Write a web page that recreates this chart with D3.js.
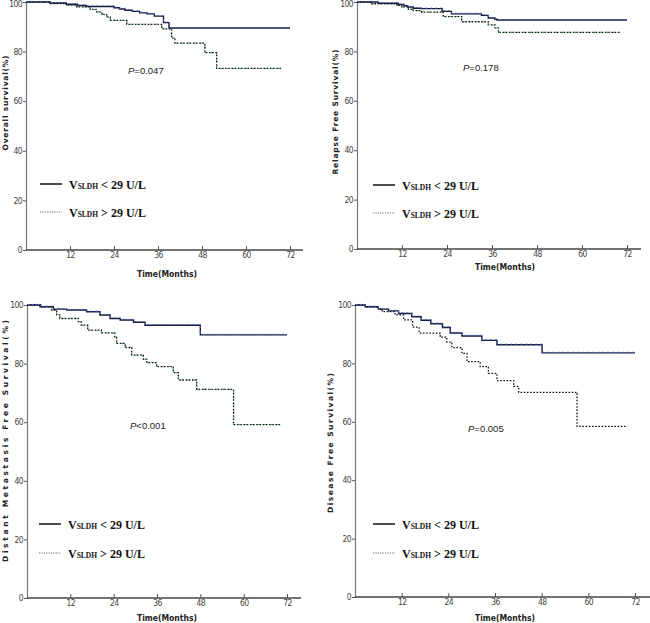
<!DOCTYPE html>
<html>
<head>
<meta charset="utf-8">
<script src="https://cdn.jsdelivr.net/npm/d3@7"></script>
<style>
  html, body { margin: 0; padding: 0; background: #fff; }
  svg { display: block; }
  .tick text { font-family: "Liberation Sans Narrow", "DejaVu Sans Condensed", "Liberation Sans", sans-serif; }
</style>
</head>
<body>
<svg id="chart" width="650" height="623"></svg>
<script>
// ---------------- DATA ----------------
const xTicks = [12, 24, 36, 48, 60, 72];
const yTicks = [0, 20, 40, 60, 80, 100];
const groupLabels = ["< 29 U/L", "> 29 U/L"];
const yTitles = ["Overall survival(%)", "Relapse Free Survival(%)", "Distant Metastasis Free Survival(%)", "Disease Free Survival(%)"];
const pValues = ["=0.047", "=0.178", "<0.001", "=0.005"];

// [month, survival %] step points, low VSLDH group (solid)
const osLow = [[0,100],[6.5,99.6],[11,99.1],[14,98.6],[16.5,98.2],[24,97.7],[25.5,97.2],[27,96.7],[29,96.2],[31,95.6],[33,95.2],[35,94.3],[37.5,91.7],[39,89.5],[72,89.5]];
const osHigh = [[0,100],[6.5,99.4],[11,98.8],[13.8,98],[17.5,97],[19.1,96],[20.7,95],[22,94],[23,92.6],[27.5,91],[37,89.2],[39.7,85.4],[40.6,83.4],[48.8,79.6],[52,73.2],[70,73.2]];

const rfsLow = [[0,100],[5.6,99.5],[11,99],[12.5,98.5],[13.5,98],[15,97.5],[17,97.3],[22.7,96.2],[25.2,95.2],[33.2,94.6],[35,93.5],[36.8,93],[37.3,92.7],[72,92.7]];
const rfsHigh = [[0,100],[3.9,99.3],[10.6,98.6],[11.9,98],[13.7,97],[15,96.5],[17.2,95.9],[23,94.1],[27.9,92],[35,90.7],[36.8,89.5],[37.7,87.7],[70.2,87.7]];

const dmfsLow = [[0,100],[3.6,99.4],[7.3,98.6],[11,98.3],[16.5,97.7],[20.2,96.6],[23,95.4],[25.8,94.9],[29.5,94.1],[32.7,93.1],[48,89.8],[72,89.8]];
const dmfsHigh = [[0,100],[4,99.4],[6.8,98.3],[8.2,96.6],[9.1,95.4],[14.2,94.3],[15,93.1],[16.8,91.4],[20.6,90.5],[24.3,89.1],[24.8,86.9],[27.2,85.5],[29,82.9],[32.2,81.5],[33.2,80.3],[35.9,79],[40.5,76.9],[41.9,74.4],[47,71.2],[57.2,59.2],[70.1,59.2]];

const dfsLow = [[0,100],[2.6,99.4],[6,98.6],[8.6,98],[11.2,97.1],[14.6,96],[17,94.8],[19.5,93.6],[22.5,92.3],[24.5,90.4],[27.5,89.4],[32.6,87.9],[36.5,86.4],[48.1,83.6],[72,83.6]];
const dfsHigh = [[0,100],[2.6,99.4],[6,98.6],[7,97.7],[10.3,96.6],[12.5,94.9],[14.8,92.4],[16.5,90.4],[21.9,89],[23.6,87.3],[24.9,85.4],[27.5,83.4],[28.8,80.6],[32.2,78.9],[34.3,76.6],[36.5,74.1],[40.8,72.1],[42.1,70.1],[57.1,58.4],[70,58.4]];

// ---------------- LAYOUT ----------------
const panels = [
  { low: osLow, high: osHigh, x0: 26, x72: 290, xEnd: 303, yTop: 2, yBot: 250,
    yTitleX: 8, yTitleY: 103, yTitleLen: 95, xTitleX: 167, xTitleY: 277,
    pX: 128, pY: 74, legX: 40, legY1: 184, legY2: 212, green: true },
  { low: rfsLow, high: rfsHigh, x0: 357, x72: 627, xEnd: 641, yTop: 2, yBot: 249,
    yTitleX: 338, yTitleY: 112, yTitleLen: 125, xTitleX: 505, xTitleY: 270,
    pX: 463, pY: 71, legX: 373, legY1: 185, legY2: 213, green: true },
  { low: dmfsLow, high: dmfsHigh, x0: 27, x72: 287, xEnd: 301, yTop: 305, yBot: 598,
    yTitleX: 8, yTitleY: 441, yTitleLen: 242, xTitleX: 167, xTitleY: 621,
    pX: 130, pY: 429, legX: 39, legY1: 524, legY2: 553, green: true },
  { low: dfsLow, high: dfsHigh, x0: 355, x72: 635, xEnd: 650, yTop: 305, yBot: 597,
    yTitleX: 333, yTitleY: 443, yTitleLen: 140, xTitleX: 505, xTitleY: 621,
    pX: 468, pY: 432, legX: 373, legY1: 524, legY2: 553, green: false }
];

const svg = d3.select("#chart");

panels.forEach((p, i) => {
  const g = svg.append("g");
  const x = d3.scaleLinear().domain([0, 72]).range([p.x0, p.x72]);
  const y = d3.scaleLinear().domain([0, 100]).range([p.yBot, p.yTop]);

  // y axis
  const yAxis = g.append("g").attr("transform", `translate(${p.x0},0)`)
    .call(d3.axisLeft(y).tickValues(yTicks).tickSize(3).tickPadding(1).tickFormat(d3.format("d")));
  yAxis.select(".domain").attr("stroke", "#777").attr("stroke-width", 1.2);
  yAxis.selectAll(".tick line").attr("stroke", "#555");
  yAxis.selectAll(".tick text").attr("font-size", 8.5).attr("fill", "#444").attr("letter-spacing", -0.6)
    .attr("dy", d => d === 100 && p.yTop < 5 ? "0.55em" : "0.32em");

  // x axis
  const xAxis = g.append("g").attr("transform", `translate(0,${p.yBot})`)
    .call(d3.axisBottom(x).tickValues(xTicks).tickSize(0).tickPadding(2));
  xAxis.select(".domain").remove();
  xAxis.selectAll(".tick text").attr("font-size", 8.5).attr("fill", "#444").attr("letter-spacing", -0.6);
  xAxis.selectAll(".tick").append("line").attr("y1", 0).attr("y2", -4).attr("stroke", "#555");
  g.append("line").attr("x1", p.x0).attr("x2", p.xEnd).attr("y1", p.yBot).attr("y2", p.yBot)
    .attr("stroke", "#444").attr("stroke-width", 1.3);

  // titles
  g.append("text").attr("x", p.xTitleX).attr("y", p.xTitleY).attr("text-anchor", "middle")
    .attr("font-family", "'DejaVu Sans Condensed', 'Liberation Sans Narrow', sans-serif")
    .attr("font-weight", "bold").attr("font-size", 8.5).attr("fill", "#222")
    .text("Time(Months)");
  g.append("text")
    .attr("transform", `translate(${p.yTitleX},${p.yTitleY}) rotate(-90)`)
    .attr("text-anchor", "middle")
    .attr("font-family", "'DejaVu Sans', sans-serif")
    .attr("font-weight", "bold").attr("font-size", 7.5).attr("fill", "#222")
    .attr("textLength", p.yTitleLen).attr("lengthAdjust", "spacing")
    .text(yTitles[i]);

  // p-value
  const pt = g.append("text").attr("x", p.pX).attr("y", p.pY)
    .attr("font-family", "'Liberation Sans', sans-serif").attr("font-size", 9.5).attr("fill", "#222");
  pt.append("tspan").attr("font-style", "italic").text("P");
  pt.append("tspan").text(pValues[i]);

  // curves
  const line = d3.line().x(d => x(d[0])).y(d => y(d[1])).curve(d3.curveStepAfter);

  // high group (dotted)
  g.append("path").datum(p.high).attr("d", line).attr("fill", "none")
    .attr("stroke", "#111").attr("stroke-width", 1.3).attr("stroke-dasharray", "1.6,1.6");
  if (p.green) {
    g.append("path").datum(p.high).attr("d", line).attr("fill", "none")
      .attr("stroke", "#3a9a45").attr("stroke-width", 1.1)
      .attr("stroke-dasharray", "1.6,4.8").attr("stroke-dashoffset", 1.6);
  }
  // low group (solid)
  g.append("path").datum(p.low).attr("d", line).attr("fill", "none")
    .attr("stroke", "#15183a").attr("stroke-width", 1.4);
  g.append("path").datum(p.low).attr("d", line).attr("fill", "none")
    .attr("transform", "translate(0,-0.6)")
    .attr("stroke", "#4a68c8").attr("stroke-width", 0.9).attr("stroke-dasharray", "2,3");

  // legend
  [p.legY1, p.legY2].forEach((ly, k) => {
    g.append("line").attr("x1", p.legX).attr("x2", p.legX + 22).attr("y1", ly).attr("y2", ly)
      .attr("stroke", k === 0 ? "#111" : "#666").attr("stroke-width", k === 0 ? 1.5 : 1.1)
      .attr("stroke-dasharray", k === 0 ? null : "1.2,1.2");
    const t = g.append("text").attr("x", p.legX + 29).attr("y", ly + 4.5)
      .attr("font-family", "'Liberation Serif', 'Times New Roman', serif")
      .attr("font-weight", "bold").attr("font-size", 12).attr("fill", "#111");
    t.append("tspan").text("V");
    t.append("tspan").attr("font-size", 7.5).attr("dy", 0.5).text("SLDH");
    t.append("tspan").attr("dy", -0.5).text(" " + groupLabels[k]);
  });
});
</script>
</body>
</html>
